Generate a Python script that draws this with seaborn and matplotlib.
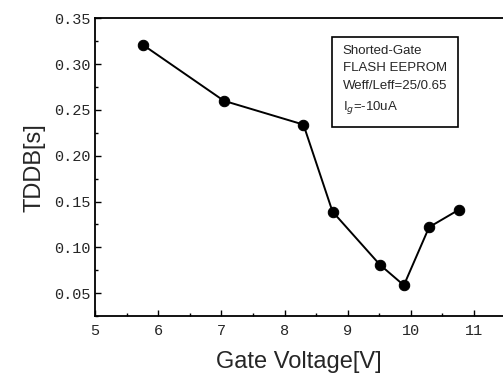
import matplotlib
matplotlib.use('Agg')
import matplotlib.pyplot as plt
import seaborn as sns
import pandas as pd
from matplotlib.ticker import MultipleLocator

# Values
gate_voltage = [5.76, 7.04, 8.30, 8.76, 9.51, 9.89, 10.29, 10.76]
tddb = [0.321, 0.260, 0.234, 0.139, 0.081, 0.0585, 0.122, 0.141]
box_lines = ['Shorted-Gate', 'FLASH EEPROM', 'Weff/Leff=25/0.65', r'I$_g$=-10uA']

df = pd.DataFrame({'Gate Voltage[V]': gate_voltage, 'TDDB[s]': tddb})

sns.set_style('ticks')
fig = plt.figure(figsize=(5.03, 3.83), dpi=100)
ax = fig.add_axes([0.189, 0.175, 0.811, 0.777])

sns.lineplot(data=df, x='Gate Voltage[V]', y='TDDB[s]', ax=ax, color='black',
             linewidth=1.4, marker='o', markersize=7.5, markeredgecolor='black')

ax.set_xlim(5, 11.46)
ax.set_ylim(0.025, 0.35)
ax.xaxis.set_major_locator(MultipleLocator(1))
ax.xaxis.set_minor_locator(MultipleLocator(0.5))
ax.yaxis.set_minor_locator(MultipleLocator(0.025))
ax.set_yticks([0.05, 0.10, 0.15, 0.20, 0.25, 0.30, 0.35])
ax.set_yticklabels(['0.05', '0.10', '0.15', '0.20', '0.25', '0.30', '0.35'])

for lab in ax.get_xticklabels() + ax.get_yticklabels():
    lab.set_fontfamily('Liberation Mono')
    lab.set_fontsize(11)
ax.tick_params(which='both', direction='in', top=False, right=False, color='black')
ax.tick_params(which='major', length=4, width=1)
ax.tick_params(which='minor', length=2, width=1)
ax.tick_params(axis='x', pad=6)

for side in ['left', 'bottom', 'top']:
    ax.spines[side].set_linewidth(1.3)
    ax.spines[side].set_color('black')
ax.spines['right'].set_visible(False)

ax.set_xlabel('Gate Voltage[V]', fontsize=17, fontfamily='Liberation Sans', labelpad=9)
ax.set_ylabel('TDDB[s]', fontsize=17, fontfamily='Liberation Sans', labelpad=6)

ax.text(0.607, 0.912, '\n'.join(box_lines), transform=ax.transAxes, fontsize=9.5,
        fontfamily='Liberation Sans', va='top', ha='left', linespacing=1.65,
        bbox=dict(boxstyle='square,pad=0.8', facecolor='white', edgecolor='black', linewidth=1.2))

fig.savefig('out.png', dpi=100)
